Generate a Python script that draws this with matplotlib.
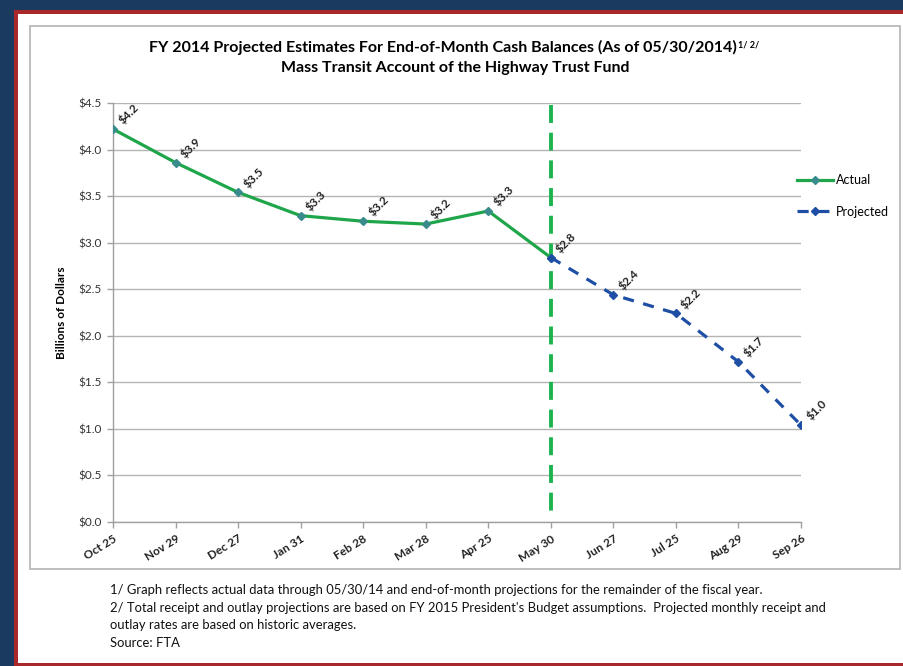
import matplotlib
matplotlib.use("Agg")
import matplotlib.pyplot as plt
from matplotlib.patches import Rectangle

plt.rcParams['font.family'] = ['Lato', 'DejaVu Sans']

months = ['Oct 25', 'Nov 29', 'Dec 27', 'Jan 31', 'Feb 28', 'Mar 28', 'Apr 25',
          'May 30', 'Jun 27', 'Jul 25', 'Aug 29', 'Sep 26']
actual = [4.22, 3.86, 3.54, 3.29, 3.23, 3.20, 3.34, 2.84]
projected = [2.84, 2.44, 2.24, 1.72, 1.04]
cutoff = 'May 30'
yticks = [0.0, 0.5, 1.0, 1.5, 2.0, 2.5, 3.0, 3.5, 4.0, 4.5]

title1 = 'FY 2014 Projected Estimates For End-of-Month Cash Balances (As of 05/30/2014)'
title_sup = '1/ 2/'
title2 = 'Mass Transit Account of the Highway Trust Fund'
notes = [
    '1/ Graph reflects actual data through 05/30/14 and end-of-month projections for the remainder of the fiscal year.',
    "2/ Total receipt and outlay projections are based on FY 2015 President's Budget assumptions.  Projected monthly receipt and",
    'outlay rates are based on historic averages.',
    'Source: FTA',
]

W, H = 904, 666
fig = plt.figure(figsize=(W / 100, H / 100), dpi=100, facecolor='#1b3a60')


def px(x, y):
    return x / W, 1 - y / H


# red frame and white page (open on the right side)
fig.patches.append(Rectangle(px(14, H), 1 - 14 / W, (H - 10) / H, transform=fig.transFigure,
                             facecolor='#a8282c', edgecolor='none', zorder=-3))
fig.patches.append(Rectangle(px(18, 663), 1 - 18 / W, 649 / H, transform=fig.transFigure,
                             facecolor='white', edgecolor='none', zorder=-2))
fig.patches.append(Rectangle(px(W - 6, 663), 6 / W, 649 / H, transform=fig.transFigure,
                             facecolor='white', edgecolor='none', zorder=-2))
# chart border
fig.patches.append(Rectangle(px(30, 569), 870 / W, 543 / H, transform=fig.transFigure,
                             facecolor='none', edgecolor='#b4b4b4', lw=1.2, zorder=-1))

ax = fig.add_axes([113 / W, 1 - 522 / H, 688 / W, 419 / H])
ax.set_facecolor('none')

xa = list(range(len(actual)))
xp = list(range(len(actual) - 1, len(months)))

ax.plot(xa, actual, color='#1fa64a', lw=2.3, marker='D', ms=4.5,
        mfc='#3a8c8c', mec='#3a8c8c', label='Actual', zorder=3)
ax.plot(xp, projected, color='#1f4fa5', lw=2.3, ls=(0, (3.5, 3)), marker='D', ms=4.5,
        mfc='#1f4fa5', mec='#1f4fa5', label='Projected', zorder=3)

# cutoff marker, dashed from the top down
ci = months.index(cutoff)
ax.plot([ci, ci], [0.995, 0.027], transform=ax.get_xaxis_transform(),
        color='#1db34f', lw=2.8, ls=(0, (4.62, 2.5)), zorder=2)

# value labels
vals = actual + projected[1:]
for i, v in enumerate(vals):
    ax.annotate('${:.1f}'.format(v), (i, v), xytext=(8, 2), textcoords='offset points',
                rotation=45, rotation_mode='anchor', ha='left', va='bottom',
                fontsize=8.5, fontweight='bold', color='#222222', zorder=4)

ax.set_xlim(0, len(months) - 1)
ax.set_ylim(0, 4.5)
ax.set_yticks(yticks)
ax.set_yticklabels(['${:.1f}'.format(t) for t in yticks], fontsize=8.5, color='#333333')
ax.set_xticks(range(len(months)))
ax.set_xticklabels(months, rotation=32, ha='right', rotation_mode='anchor',
                   fontsize=8.5, fontweight='bold', color='#222222')
ax.tick_params(axis='both', color='#a0a0a0', length=4, width=1)
ax.tick_params(axis='x', pad=4)
ax.tick_params(axis='y', pad=4)
ax.grid(axis='y', color='#b4b4b4', lw=1)
ax.set_axisbelow(True)
for s in ['top', 'right']:
    ax.spines[s].set_visible(False)
for s in ['left', 'bottom']:
    ax.spines[s].set_color('#a0a0a0')
    ax.spines[s].set_linewidth(1)
ax.set_ylabel('Billions of Dollars', fontsize=8.5, fontweight='bold', labelpad=8)

ax.legend(loc='upper left', bbox_to_anchor=(0.994, 0.83), frameon=False,
          fontsize=9, handlelength=2.9, handletextpad=0.2, labelspacing=1.55,
          borderaxespad=0, borderpad=0)

# title with superscript note markers
t1 = fig.text(*px(443, 47), title1, ha='center', va='center', fontsize=11.5, fontweight='bold')
fig.canvas.draw()
bb = t1.get_window_extent()
fig.text((bb.x1 + 1) / W, bb.y1 / H - 0.002, title_sup, ha='left', va='top',
         fontsize=6.5, fontweight='bold')
fig.text(*px(455, 68), title2, ha='center', va='center', fontsize=11.5, fontweight='bold')

for k, line in enumerate(notes):
    fig.text(*px(110, 590 + 17.7 * k), line, ha='left', va='center', fontsize=9.4, color='#111111')

fig.savefig('out.png', dpi=100, facecolor=fig.get_facecolor())
